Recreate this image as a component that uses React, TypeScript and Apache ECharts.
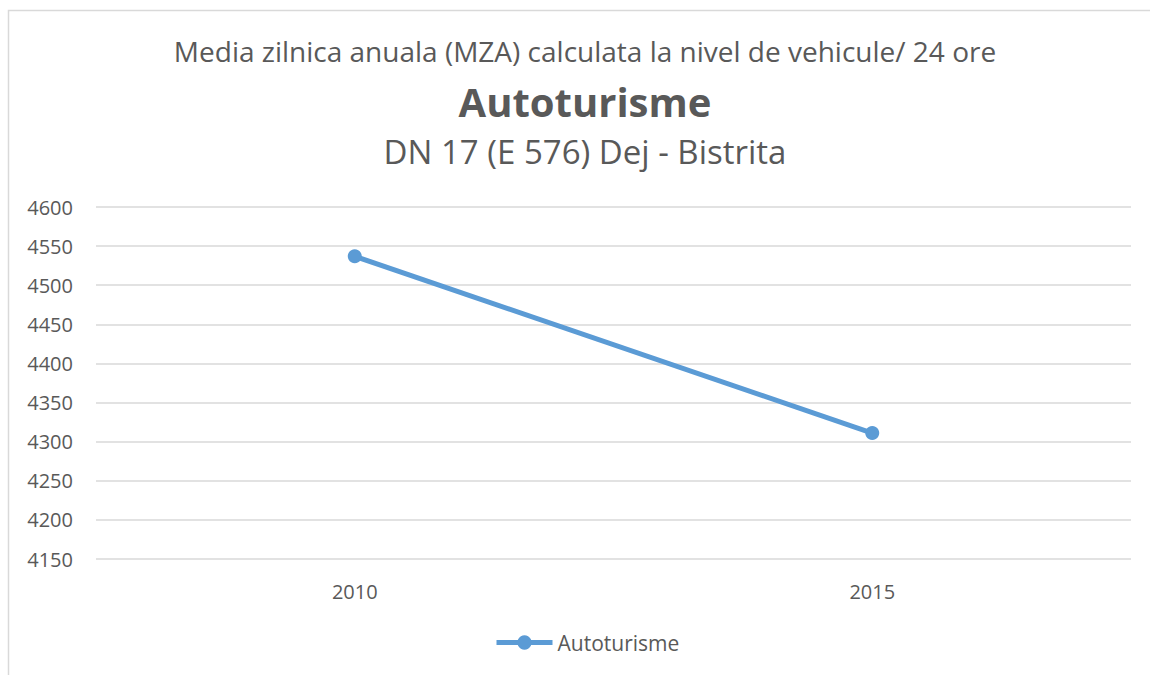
import React, { useEffect, useRef } from "react";
import * as echarts from "echarts";

const categories = ["2010", "2015"];
const seriesName = "Autoturisme";
const values = [4537, 4311];
const titleLine1 = "Media zilnica anuala (MZA) calculata la nivel de vehicule/ 24 ore";
const titleLine2 = "Autoturisme";
const titleLine3 = "DN 17 (E 576) Dej - Bistrita";

const FONT = "'Open Sans', sans-serif";
const TEXT = "#595959";

export default function App() {
  const ref = useRef<HTMLDivElement>(null);
  useEffect(() => {
    if (!ref.current) return;
    const chart = echarts.init(ref.current, undefined, { renderer: "svg" });
    chart.setOption({
      animation: false,
      backgroundColor: "#ffffff",
      textStyle: { fontFamily: FONT },
      graphic: [
        {
          type: "rect",
          shape: { x: 8.5, y: 10.5, width: 1300, height: 800 },
          style: { fill: "none", stroke: "#D9D9D9", lineWidth: 1.5 },
          silent: true,
        },
      ],
      title: [
        {
          text: titleLine1,
          left: 580,
          textAlign: "center",
          top: 32,
          textStyle: { fontFamily: FONT, fontSize: 28, fontWeight: "normal", color: TEXT },
        },
        {
          text: titleLine2,
          left: 580,
          textAlign: "center",
          top: 76,
          textStyle: { fontFamily: FONT, fontSize: 40, fontWeight: "bold", color: TEXT },
        },
        {
          text: titleLine3,
          left: 580,
          textAlign: "center",
          top: 130,
          textStyle: { fontFamily: FONT, fontSize: 33, fontWeight: "normal", color: TEXT },
        },
      ],
      legend: {
        bottom: 17,
        left: 489,
        itemWidth: 56,
        itemHeight: 18,
        itemGap: 4,
        data: [seriesName],
        lineStyle: { width: 5 },
        textStyle: { fontFamily: FONT, fontSize: 21, color: TEXT },
      },
      grid: { left: 96, right: 19, top: 207, bottom: 116 },
      xAxis: {
        type: "category",
        data: categories,
        boundaryGap: true,
        axisLine: { show: false },
        axisTick: { show: false },
        axisLabel: { fontFamily: FONT, fontSize: 20, color: TEXT, margin: 22 },
      },
      yAxis: {
        type: "value",
        min: 4150,
        max: 4600,
        interval: 50,
        axisLine: { show: false },
        axisTick: { show: false },
        splitLine: { lineStyle: { color: "#D9D9D9", width: 1.5 } },
        axisLabel: {
          fontFamily: FONT,
          fontSize: 20,
          color: TEXT,
          margin: 23,
          formatter: (v: number) => String(v),
        },
      },
      series: [
        {
          name: seriesName,
          type: "line",
          data: values,
          symbol: "circle",
          symbolSize: 14,
          lineStyle: { color: "#5B9BD5", width: 5 },
          itemStyle: { color: "#5B9BD5" },
        },
      ],
    });
    return () => chart.dispose();
  }, []);
  return (
    <div
      ref={ref}
      style={{ position: "fixed", left: 0, top: 0, width: 1150, height: 675 }}
    />
  );
}
